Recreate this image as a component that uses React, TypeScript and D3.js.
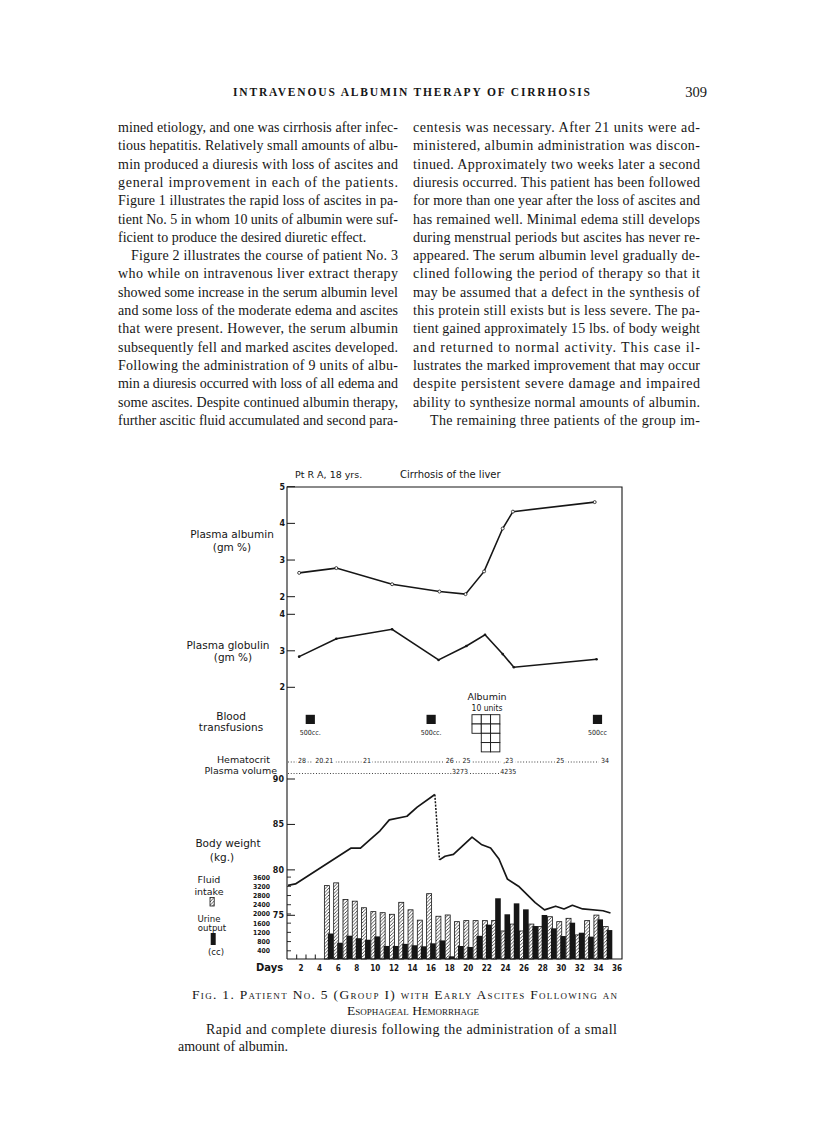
import * as d3 from 'd3';

// ---- chart data ----
const albuminDays = [1.8, 5.8, 11.8, 16.9, 19.7, 21.7, 23.7, 24.8, 33.6];
const albuminValues = [2.65, 2.78, 2.34, 2.14, 2.07, 2.69, 3.86, 4.32, 4.58];

const globulinDays = [1.8, 5.8, 11.8, 16.8, 19.8, 21.8, 23.7, 24.9, 33.8];
const globulinValues = [2.84, 3.33, 3.59, 2.75, 3.13, 3.44, 2.91, 2.55, 2.77];

const weightDaysBefore = [0.6, 1.4, 7.4, 8.4, 9.4, 10.5, 11.5, 13.4, 14.5, 16.4];
const weightBefore = [78.3, 78.45, 82.4, 82.4, 83.3, 84.3, 85.5, 85.9, 86.9, 88.3];
const weightDaysAfter = [16.9, 17.5, 18.4, 20.4, 21.4, 22.4, 23.3, 24.2, 25.4, 27.2, 28.2, 29.4, 30.3, 31.2, 32.3, 34.5, 35.3];
const weightAfter = [81.1, 81.5, 81.7, 83.6, 82.8, 82.4, 81.2, 79.0, 78.2, 76.4, 75.6, 76.0, 75.7, 76.1, 75.7, 75.5, 75.25];

const fluidDays = [5, 6, 7, 8, 9, 10, 11, 12, 13, 14, 15, 16, 17, 18, 19, 20, 21, 22, 23, 24, 25, 26, 27, 28, 29, 30, 31, 32, 33, 34, 35];
const intake = [3230, 3350, 2630, 2555, 2270, 2100, 2055, 1985, 2505, 2180, 1730, 2880, 1900, 1955, 1665, 1710, 1710, 1710, 1720, 1260, 1560, 1260, 1560, 1450, 1880, 1665, 1810, 1090, 1710, 1950, 1450];
const output = [1150, 750, 1055, 945, 880, 1025, 610, 610, 700, 640, 595, 724, 850, 160, 608, 565, 1050, 1535, 2680, 1985, 2460, 2200, 1475, 1955, 1375, 1040, 1620, 1185, 1015, 1765, 1300];
const noIntakeDays = [2, 3, 4];

const transfusionDays = [3, 16, 33.9];
const transfusionLabels = ['500cc.', '500cc.', '500cc'];

const albuminUnitDays = [21, 22, 23];
const albuminUnitCounts = [2, 4, 4];

const hematocritDays = [2.1, 4.5, 9.1, 18, 19.8, 24.3, 29.9, 34.7];
const hematocritLabels = ['28', '20.21', '21', '26', '25', ',23', '25', '34'];
const plasmaVolumeDays = [19.1, 24.3];
const plasmaVolumeLabels = ['3273', '4235'];

const dayTicks = d3.range(2, 37, 2);
const albuminTicks = [2, 3, 4, 5];
const globulinTicks = [2, 3, 4];
const weightTicks = [75, 80, 85, 90];
const fluidTicks = [400, 800, 1200, 1600, 2000, 2400, 2800, 3200, 3600];

// ---- page text ----
const leftLines = [
  'mined etiology, and one was cirrhosis after infec-',
  'tious hepatitis. Relatively small amounts of albu-',
  'min produced a diuresis with loss of ascites and',
  'general improvement in each of the patients.',
  'Figure 1 illustrates the rapid loss of ascites in pa-',
  'tient No. 5 in whom 10 units of albumin were suf-',
  'ficient to produce the desired diuretic effect.',
  'Figure 2 illustrates the course of patient No. 3',
  'who while on intravenous liver extract therapy',
  'showed some increase in the serum albumin level',
  'and some loss of the moderate edema and ascites',
  'that were present. However, the serum albumin',
  'subsequently fell and marked ascites developed.',
  'Following the administration of 9 units of albu-',
  'min a diuresis occurred with loss of all edema and',
  'some ascites. Despite continued albumin therapy,',
  'further ascitic fluid accumulated and second para-',
];
const rightLines = [
  'centesis was necessary. After 21 units were ad-',
  'ministered, albumin administration was discon-',
  'tinued. Approximately two weeks later a second',
  'diuresis occurred. This patient has been followed',
  'for more than one year after the loss of ascites and',
  'has remained well. Minimal edema still develops',
  'during menstrual periods but ascites has never re-',
  'appeared. The serum albumin level gradually de-',
  'clined following the period of therapy so that it',
  'may be assumed that a defect in the synthesis of',
  'this protein still exists but is less severe. The pa-',
  'tient gained approximately 15 lbs. of body weight',
  'and returned to normal activity. This case il-',
  'lustrates the marked improvement that may occur',
  'despite persistent severe damage and impaired',
  'ability to synthesize normal amounts of albumin.',
  'The remaining three patients of the group im-',
];

const INK = '#161616';
const HAND = "'DejaVu Sans', sans-serif";
const COND = "'DejaVu Sans Condensed', 'DejaVu Sans', sans-serif";
const SERIF = "'Liberation Serif', 'DejaVu Serif', serif";

export default function App() {
  const x = d3.scaleLinear().domain([2, 36]).range([301, 617]);
  const yAlb = d3.scaleLinear().domain([2, 5]).range([596.7, 486.7]);
  const yGlob = d3.scaleLinear().domain([2, 4]).range([687.3, 614.3]);
  const yWt = d3.scaleLinear().domain([75, 90]).range([915.3, 779]);
  const yCc = d3.scaleLinear().domain([0, 3600]).range([960, 877.1]);

  const left = 287, right = 622, top = 487, bottom = 959;

  const albPts: [number, number][] = albuminDays.map((d, i) => [x(d), yAlb(albuminValues[i])]);
  const globPts: [number, number][] = globulinDays.map((d, i) => [x(d), yGlob(globulinValues[i])]);
  const wBefore: [number, number][] = weightDaysBefore.map((d, i) => [x(d), yWt(weightBefore[i])]);
  const wAfter: [number, number][] = weightDaysAfter.map((d, i) => [x(d), yWt(weightAfter[i])]);
  const line = d3.line();
  const wDrop = [wBefore[wBefore.length - 1], wAfter[0]] as [number, number][];

  const lineY0 = 132, lineStep = 18.31;
  const unit = x(3) - x(2);

  return (
    <svg width={816} height={1130} viewBox="0 0 816 1130"
      style={{ position: 'absolute', left: 0, top: 0, background: '#fff' }}>
      <defs>
        <pattern id="hatch" patternUnits="userSpaceOnUse" width="3.4" height="3.4">
          <path d="M-1,1 l2,-2 M0,3.4 l3.4,-3.4 M2.4,4.4 l2,-2" stroke={INK} strokeWidth="0.75" />
        </pattern>
      </defs>
      <rect width={816} height={1130} fill="#fff" />

      {/* running head */}
      <text x={233} y={96} fontFamily={SERIF} fontSize={11.5} fontWeight="bold" fill={INK}
        textLength={357} lengthAdjust="spacing">INTRAVENOUS ALBUMIN THERAPY OF CIRRHOSIS</text>
      <text x={707} y={97} fontFamily={SERIF} fontSize={14.5} fill={INK} textAnchor="end">309</text>

      {/* body text */}
      {leftLines.map((t, i) => {
        const indent = i === 7 ? 13 : 0;
        const justify = i !== 6;
        return (
          <text key={'l' + i} x={118 + indent} y={lineY0 + i * lineStep} fontFamily={SERIF} fontSize={14} fill={INK}
            {...(justify ? { textLength: 280 - indent, lengthAdjust: 'spacing' } : {})}>{t}</text>
        );
      })}
      {rightLines.map((t, i) => {
        const indent = i === 16 ? 17 : 0;
        return (
          <text key={'r' + i} x={413 + indent} y={lineY0 + i * lineStep} fontFamily={SERIF} fontSize={14} fill={INK}
            textLength={287 - indent} lengthAdjust="spacing">{t}</text>
        );
      })}

      {/* chart title */}
      <text x={295} y={478} fontFamily={HAND} fontSize={9.5} fill={INK}>Pt R A, 18 yrs.</text>
      <text x={400} y={478} fontFamily={HAND} fontSize={10} fill={INK}>Cirrhosis of the liver</text>

      {/* frame */}
      <path d={`M${left},${bottom} V${top} H${right} V${bottom} H${left}`} fill="none" stroke={INK} strokeWidth={1.1} />

      {/* albumin axis */}
      {albuminTicks.map(t => (
        <g key={'at' + t}>
          <line x1={left} x2={left + 8} y1={yAlb(t)} y2={yAlb(t)} stroke={INK} strokeWidth={1} />
          <text x={left - 2} y={yAlb(t) + 3} fontFamily={HAND} fontSize={8} fontWeight="bold" textAnchor="end" fill={INK}>{t}</text>
        </g>
      ))}
      <text x={232} y={538} fontFamily={HAND} fontSize={10.5} textAnchor="middle" fill={INK}>Plasma albumin</text>
      <text x={232} y={551} fontFamily={HAND} fontSize={10.5} textAnchor="middle" fill={INK}>(gm %)</text>
      <path d={line(albPts) || ''} fill="none" stroke={INK} strokeWidth={1.6} />
      {albPts.map((p, i) => <circle key={'ac' + i} cx={p[0]} cy={p[1]} r={1.5} fill="#fff" stroke={INK} strokeWidth={0.8} />)}

      {/* globulin axis */}
      {globulinTicks.map(t => (
        <g key={'gt' + t}>
          <line x1={left} x2={left + 8} y1={yGlob(t)} y2={yGlob(t)} stroke={INK} strokeWidth={1} />
          <text x={left - 2} y={yGlob(t) + 3} fontFamily={HAND} fontSize={8} fontWeight="bold" textAnchor="end" fill={INK}>{t}</text>
        </g>
      ))}
      <text x={228} y={648.5} fontFamily={HAND} fontSize={10.5} textAnchor="middle" fill={INK}>Plasma globulin</text>
      <text x={233} y={660.5} fontFamily={HAND} fontSize={10.5} textAnchor="middle" fill={INK}>(gm %)</text>
      <path d={line(globPts) || ''} fill="none" stroke={INK} strokeWidth={1.6} />
      {globPts.map((p, i) => <circle key={'gc' + i} cx={p[0]} cy={p[1]} r={1.3} fill={INK} />)}

      {/* blood transfusions */}
      <text x={231} y={719.5} fontFamily={HAND} fontSize={10.5} textAnchor="middle" fill={INK}>Blood</text>
      <text x={231} y={731} fontFamily={HAND} fontSize={10.5} textAnchor="middle" fill={INK}>transfusions</text>
      {transfusionDays.map((d, i) => (
        <g key={'bt' + i}>
          <rect x={x(d) - 4.6} y={714.8} width={9.2} height={9.2} fill={INK} />
          <text x={x(d)} y={734.5} fontFamily={COND} fontSize={7} textAnchor="middle" fill={INK}>{transfusionLabels[i]}</text>
        </g>
      ))}

      {/* albumin units grid */}
      <text x={487} y={700} fontFamily={HAND} fontSize={9.5} textAnchor="middle" fill={INK}>Albumin</text>
      <text x={487} y={711} fontFamily={COND} fontSize={8.5} textAnchor="middle" fill={INK}>10 units</text>
      {albuminUnitDays.map((d, i) =>
        d3.range(albuminUnitCounts[i]).map(r => (
          <rect key={'u' + i + '-' + r} x={x(d) - 5.6} y={714.7 + r * unit}
            width={unit} height={unit} fill="#fff" stroke={INK} strokeWidth={0.9} />
        ))
      )}

      {/* hematocrit & plasma volume */}
      <text x={270} y={762.5} fontFamily={HAND} fontSize={9.5} textAnchor="end" fill={INK}>Hematocrit</text>
      <text x={277} y={774} fontFamily={HAND} fontSize={9.5} textAnchor="end" fill={INK}>Plasma volume</text>
      <line x1={288} x2={x(34.7) - 6} y1={762} y2={762} stroke={INK} strokeWidth={0.9} strokeDasharray="0.9 1.9" />
      {hematocritDays.map((d, i) => (
        <g key={'h' + i}>
          <rect x={x(d) - hematocritLabels[i].length * 2 - 1.5} y={755} width={hematocritLabels[i].length * 4 + 3} height={9} fill="#fff" />
          <text x={x(d)} y={762.5} fontFamily={COND} fontSize={7} textAnchor="middle" fill={INK}>{hematocritLabels[i]}</text>
        </g>
      ))}
      <line x1={288} x2={x(plasmaVolumeDays[1]) + 8} y1={773.5} y2={773.5} stroke={INK} strokeWidth={0.9} strokeDasharray="0.9 1.9" />
      {plasmaVolumeDays.map((d, i) => (
        <g key={'pv' + i}>
          <rect x={x(d) - 8} y={766} width={16} height={10} fill="#fff" />
          <text x={x(d)} y={774} fontFamily={COND} fontSize={7} textAnchor="middle" fill={INK}>{plasmaVolumeLabels[i]}</text>
        </g>
      ))}

      {/* body weight axis */}
      {weightTicks.map(t => (
        <g key={'wt' + t}>
          <line x1={left} x2={left + 8} y1={yWt(t)} y2={yWt(t)} stroke={INK} strokeWidth={1} />
          <text x={left - 3} y={yWt(t) + 3} fontFamily={HAND} fontSize={8} fontWeight="bold" textAnchor="end" fill={INK}>{t}</text>
        </g>
      ))}
      <text x={228} y={846.5} fontFamily={HAND} fontSize={10.5} textAnchor="middle" fill={INK}>Body weight</text>
      <text x={222} y={861} fontFamily={HAND} fontSize={10.5} textAnchor="middle" fill={INK}>(kg.)</text>

      {/* fluid axis */}
      {fluidTicks.map(t => (
        <g key={'ft' + t}>
          <line x1={left} x2={left + 4} y1={yCc(t)} y2={yCc(t)} stroke={INK} strokeWidth={0.9} />
          <text x={270} y={yCc(t) + 2.5} fontFamily={COND} fontSize={6.8} fontWeight="bold" textAnchor="end" fill={INK}>{t}</text>
        </g>
      ))}
      <text x={209} y={883} fontFamily={HAND} fontSize={9.5} textAnchor="middle" fill={INK}>Fluid</text>
      <text x={209} y={894.5} fontFamily={HAND} fontSize={9.5} textAnchor="middle" fill={INK}>intake</text>
      <rect x={210} y={897.5} width={4.2} height={8.5} fill="url(#hatch)" stroke={INK} strokeWidth={0.8} />
      <text x={209} y={921.5} fontFamily={HAND} fontSize={8.6} textAnchor="middle" fill={INK}>Urine</text>
      <text x={212} y={930.8} fontFamily={HAND} fontSize={8.6} textAnchor="middle" fill={INK}>output</text>
      <rect x={210.7} y={933} width={5} height={12} fill={INK} />
      <text x={216} y={955} fontFamily={HAND} fontSize={8.5} textAnchor="middle" fill={INK}>(cc)</text>

      {/* bars */}
      {noIntakeDays.map(d => (
        <line key={'nz' + d} x1={x(d) - 4.3} x2={x(d) - 4.3} y1={bottom} y2={bottom - 4.5} stroke={INK} strokeWidth={1} />
      ))}
      {fluidDays.map((d, i) => (
        <g key={'bar' + d}>
          <rect x={x(d) - 4.5} y={yCc(intake[i])} width={5} height={bottom - yCc(intake[i])}
            fill="url(#hatch)" stroke={INK} strokeWidth={0.8} />
          <rect x={x(d) - 1} y={yCc(output[i])} width={5.6} height={bottom - yCc(output[i])} fill={INK} />
        </g>
      ))}

      {/* body weight line */}
      <path d={line(wBefore) || ''} fill="none" stroke={INK} strokeWidth={1.7} strokeLinejoin="round" />
      <path d={line(wDrop) || ''} fill="none" stroke={INK} strokeWidth={1.5} strokeDasharray="2 1.4" />
      <path d={line(wAfter) || ''} fill="none" stroke={INK} strokeWidth={1.7} strokeLinejoin="round" />

      {/* days axis */}
      <text x={256} y={971} fontFamily={HAND} fontSize={10} fontWeight="bold" fill={INK}>Days</text>
      {dayTicks.map(d => (
        <text key={'d' + d} x={x(d)} y={971} fontFamily={COND} fontSize={8} fontWeight="bold" textAnchor="middle" fill={INK}>{d}</text>
      ))}

      {/* caption */}
      <text x={192} y={999} fontFamily={SERIF} fontSize={13.5} fill={INK} style={{ fontVariant: 'small-caps' }}
        textLength={425} lengthAdjust="spacing">Fig. 1. Patient No. 5 (Group I) with Early Ascites Following an</text>
      <text x={413} y={1015} fontFamily={SERIF} fontSize={13.5} fill={INK} textAnchor="middle" style={{ fontVariant: 'small-caps' }}>Esophageal Hemorrhage</text>
      <text x={206} y={1034} fontFamily={SERIF} fontSize={14} fill={INK}
        textLength={411} lengthAdjust="spacing">Rapid and complete diuresis following the administration of a small</text>
      <text x={178} y={1051} fontFamily={SERIF} fontSize={14} fill={INK}>amount of albumin.</text>
    </svg>
  );
}
